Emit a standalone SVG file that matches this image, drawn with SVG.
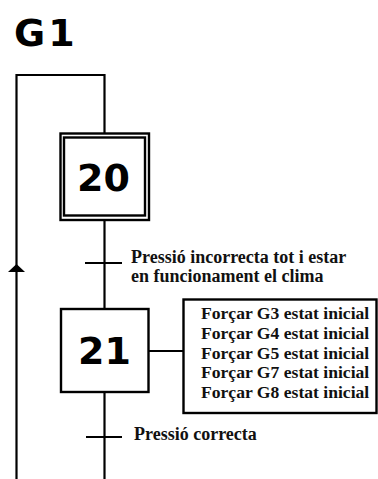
<svg xmlns="http://www.w3.org/2000/svg" width="378" height="479" viewBox="0 0 378 479">
<style>
.ln{stroke:#000;stroke-width:2.2;fill:none}
.box{stroke:#000;stroke-width:2.4;fill:#fff}
.num{font-family:"DejaVu Sans",Verdana,sans-serif;font-weight:bold;font-size:38px;fill:#000}
.lbl{font-family:"Liberation Serif","Times New Roman",serif;font-weight:bold;font-size:18px;fill:#111}
.act{font-family:"Liberation Serif","Times New Roman",serif;font-weight:bold;font-size:17.6px;fill:#111}
</style>
<rect width="378" height="479" fill="#fff"/>
<text class="num" x="14" y="46" font-size="39" letter-spacing="3">G1</text>
<g id="connectors">
<polyline class="ln" points="16.5,479 16.5,75 104.5,75 104.5,133"/>
<polygon points="16.5,264 8,272 25,272" fill="#000"/>
<line class="ln" x1="104.5" y1="220" x2="104.5" y2="309"/>
<line class="ln" x1="104.5" y1="392" x2="104.5" y2="479"/>
<line class="ln" x1="149" y1="351" x2="183" y2="351"/>
</g>
<g id="step20">
<rect class="box" x="60.5" y="133.5" width="88.5" height="86.5"/>
<rect class="box" x="64" y="137.5" width="81" height="78"/>
<text class="num" x="103.5" y="191" text-anchor="middle">20</text>
</g>
<g id="t1">
<line class="ln" x1="85" y1="263" x2="122" y2="263"/>
<text class="lbl" x="131" y="263">Pressió incorrecta tot i estar</text>
<text class="lbl" x="131" y="282">en funcionament el clima</text>
</g>
<g id="step21">
<rect class="box" x="61" y="309" width="87.5" height="83"/>
<text class="num" x="104.5" y="364" text-anchor="middle">21</text>
</g>
<g id="actions21">
<rect class="box" x="183.5" y="299.5" width="193" height="113.5"/>
<text class="act" x="201" y="319">Forçar G3 estat inicial</text>
<text class="act" x="201" y="339">Forçar G4 estat inicial</text>
<text class="act" x="201" y="358.5">Forçar G5 estat inicial</text>
<text class="act" x="201" y="378">Forçar G7 estat inicial</text>
<text class="act" x="201" y="398">Forçar G8 estat inicial</text>
</g>
<g id="t2">
<line class="ln" x1="86" y1="437" x2="122" y2="437"/>
<text class="lbl" x="134" y="440">Pressió correcta</text>
</g>
</svg>
